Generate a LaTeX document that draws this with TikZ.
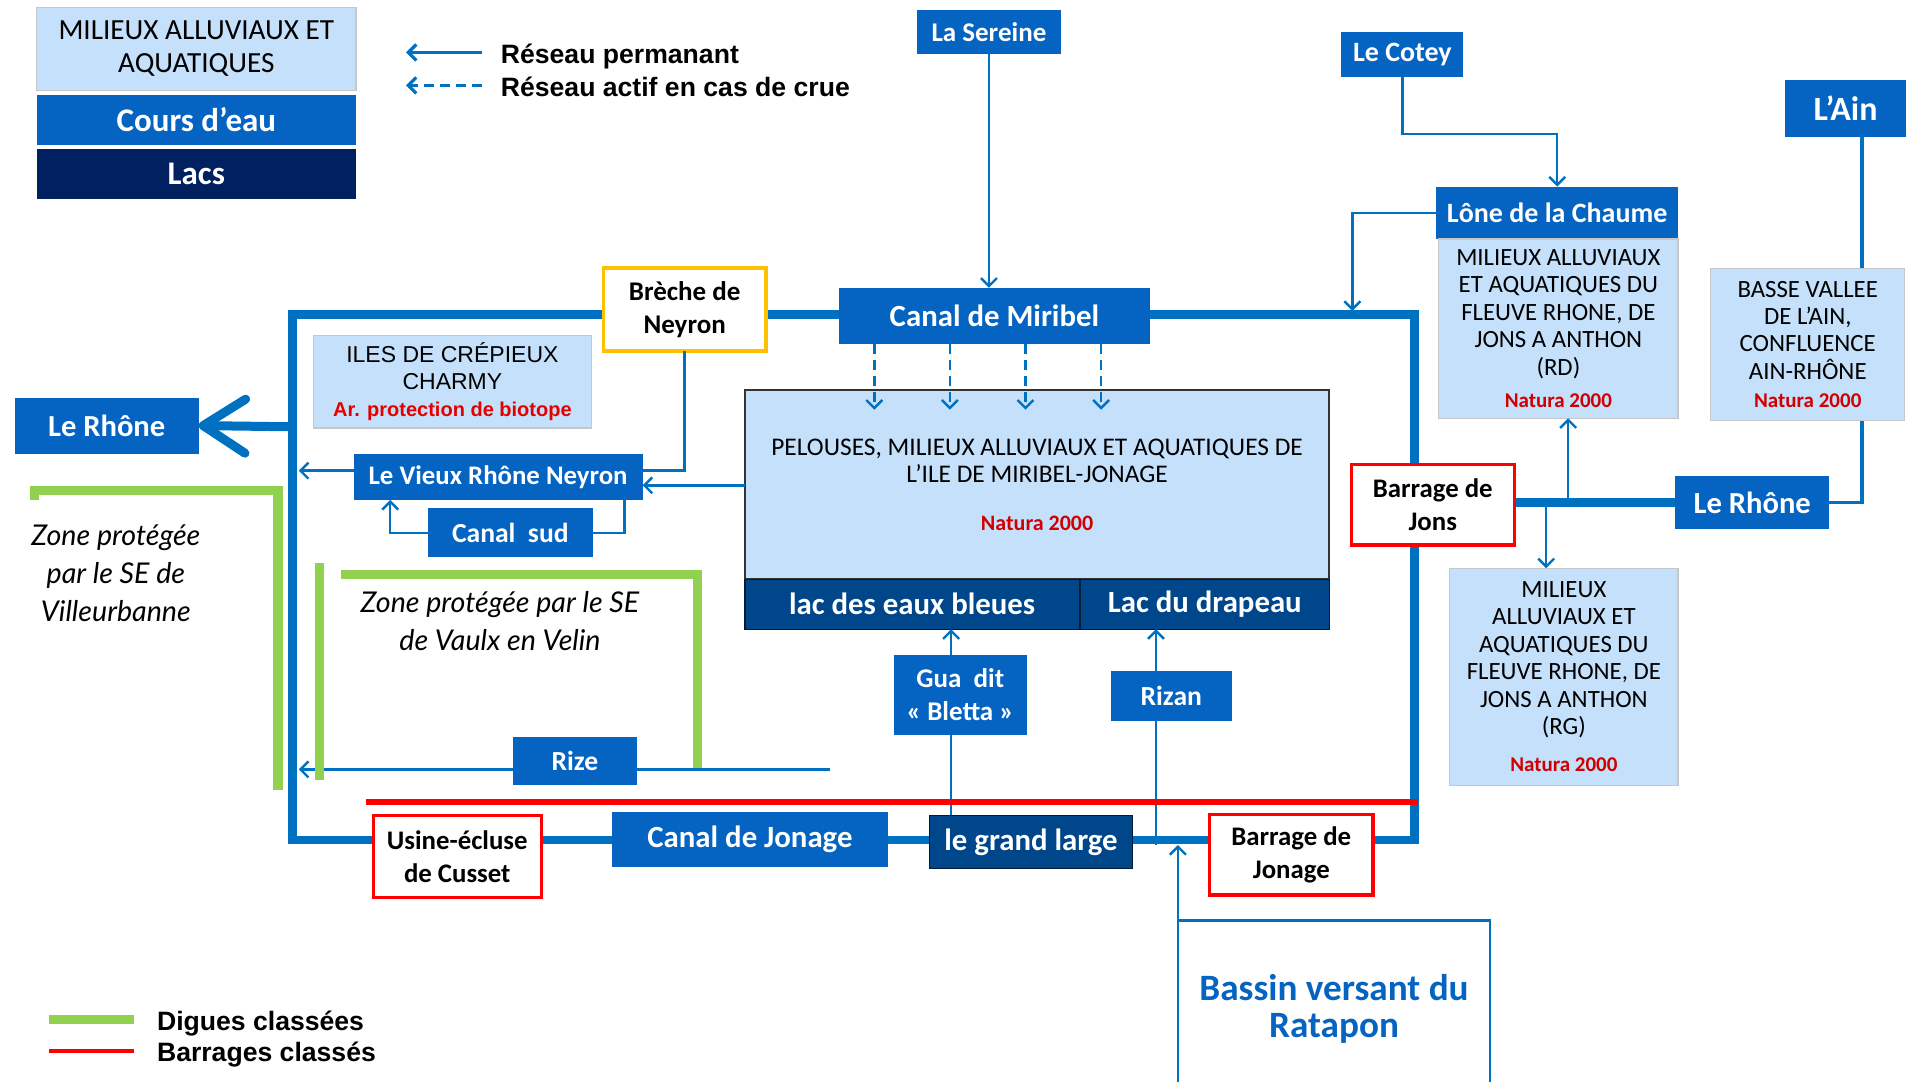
\documentclass[tikz,border=0pt]{standalone}
\usepackage{fontspec}
\setmainfont{Carlito}
\newfontfamily\arialf{Liberation Sans}
\newfontfamily\zonef{Lato}
\usetikzlibrary{arrows.meta}
\definecolor{cblue}{HTML}{0563C1}
\definecolor{lblue}{HTML}{0070C0}
\definecolor{clight}{HTML}{C5E0FA}
\definecolor{clac}{HTML}{00468A}
\definecolor{cnavy}{HTML}{002060}
\definecolor{cgreen}{HTML}{92D050}
\definecolor{cyel}{HTML}{FFC000}
\definecolor{natred}{HTML}{D00000}
\pgfdeclarelayer{bg}
\pgfsetlayers{bg,main}
\newcommand{\fsz}[2]{\fontsize{#1}{#2}\selectfont}
\newcommand{\natura}[1][10.5]{{\color{natred}\bfseries\fsz{#1}{13}Natura 2000}}
% box from (x1,y1) to (x2,y2) in picture units
\newcommand{\bx}[7][]{\node[#1, minimum width={((#5)-(#3))*0.6097pt}, minimum height={((#6)-(#4))*0.6097pt}] (#2) at ({((#3)+(#5))/2},{((#4)+(#6))/2}) {#7};}
\tikzset{
  box/.style={inner sep=0pt, outer sep=0pt, align=center},
  bluebox/.style={box, fill=cblue, text=white, font=\bfseries\fsz{13.5}{15}},
  lacbox/.style={box, fill=clac, text=white, font=\bfseries\fsz{15.4}{15}},
  lightbox/.style={box, fill=clight, draw=black!22, line width=0.6pt, font=\fsz{12.4}{13.7}},
  redbox/.style={box, fill=white, draw=red, line width=1.6pt, font=\bfseries\fsz{13.4}{16.5}},
  conn/.style={draw=lblue, line width=1.2pt, -{Straight Barb[length=4pt,width=8pt]}},
  plainline/.style={draw=lblue, line width=1.2pt},
  loopline/.style={draw=lblue, line width=4.3pt, line join=miter},
  dashconn/.style={conn, dash pattern=on 5pt off 3pt},
  digue/.style={draw=cgreen, line width=4.6pt, line join=miter},
  barrage/.style={draw=red, line width=3pt},
  legtext/.style={anchor=west, font=\arialf\bfseries\fsz{13.3}{15}},
  zonetext/.style={align=center, font=\zonef\itshape\fsz{14.3}{19}},
}
\begin{document}
\begin{tikzpicture}[x=0.6097pt, y=-0.6097pt]
\useasboundingbox (0,0) rectangle (1568,887);
\begin{pgfonlayer}{bg}
\fill[white] (0,0) rectangle (1568,887);
\end{pgfonlayer}

% ---------- legend ----------
\bx[lightbox, font=\fsz{14.6}{16.5}]{legmil}{30}{6}{292}{74}{MILIEUX ALLUVIAUX ET\\AQUATIQUES}
\bx[bluebox, font=\bfseries\fsz{16.5}{17}]{legcours}{30}{78}{292}{119}{Cours d’eau}
\bx[box, fill=cnavy, text=white, font=\bfseries\fsz{16.5}{17}]{leglacs}{30}{122}{292}{163}{Lacs}
\coordinate (la1s) at (395,43); \coordinate (la1e) at (333,43);
\coordinate (la2s) at (395,70); \coordinate (la2e) at (333,70);
\draw[conn, line width=1.6pt] (la1s) -- (la1e);
\draw[dashconn, line width=1.6pt] (la2s) -- (la2e);
\node[legtext] (legperm) at (405,46) {Réseau permanant};
\node[legtext] (legcrue) at (405,71) {Réseau actif en cas de crue};

\coordinate (dg1) at (40,836); \coordinate (dg2) at (110,836);
\coordinate (br1) at (40,862); \coordinate (br2) at (110,862);
\draw[draw=cgreen, line width=4.8pt] (dg1) -- (dg2);
\draw[draw=red, line width=2pt] (br1) -- (br2);
\node[legtext] (legdig) at (123,839) {Digues classées};
\node[legtext] (legbar) at (123,865) {Barrages classés};

% ---------- nodes ----------
\bx[bluebox]{sereine}{752}{8}{870}{44}{La Sereine}
\bx[bluebox, font=\bfseries\fsz{14}{15}]{cotey}{1100}{26}{1200}{63}{Le Cotey}
\bx[bluebox, font=\bfseries\fsz{17}{15}]{ain}{1464}{66}{1563}{112}{L’Ain}
\bx[bluebox, font=\bfseries\fsz{14}{15}]{lone}{1178}{153}{1376}{196}{Lône de la Chaume}
\bx[lightbox]{rd}{1180}{196}{1376}{343}{MILIEUX ALLUVIAUX\\ET AQUATIQUES DU\\FLEUVE RHONE, DE\\JONS A ANTHON\\(RD)\\[2.5pt]\natura}
\bx[lightbox]{basse}{1403}{220}{1562}{345}{BASSE VALLEE\\DE L’AIN,\\CONFLUENCE\\AIN-RHÔNE\\[0.5pt]\natura}
\bx[bluebox, font=\bfseries\fsz{15.4}{15}]{miribel}{688}{236}{943}{282}{Canal de Miribel}
\bx[box, fill=white, draw=cyel, line width=1.8pt, font=\bfseries\fsz{13.5}{16.5}]{breche}{495}{220}{628}{288}{Brèche de\\Neyron}
\bx[lightbox, font=\arialf\fsz{11.5}{13.4}]{iles}{257}{275}{485}{351}{ILES DE CRÉPIEUX\\CHARMY\\{\color{red!90!black}\bfseries\fsz{10}{13.4}Ar. protection de biotope}}
\bx[bluebox, font=\bfseries\fsz{15.3}{15}]{rhoneL}{12}{326}{163}{372}{Le Rhône}
\bx[bluebox, font=\bfseries\fsz{13.4}{15}]{vieux}{290}{372}{527}{410}{Le Vieux Rhône Neyron}
\bx[bluebox, font=\bfseries\fsz{13.8}{15}]{canalsud}{351}{417}{486}{457}{Canal\ \ sud}
\bx[lightbox, draw=black!80, line width=0.8pt, font=\fsz{12.7}{13.6}]{pelouses}{611}{320}{1090}{475}{PELOUSES, MILIEUX ALLUVIAUX ET AQUATIQUES DE\\L’ILE DE MIRIBEL-JONAGE\\[10pt]\natura[11]}
\bx[lacbox, draw=black!60!clac, line width=0.6pt]{lacbleu}{611}{475}{885}{516}{lac des eaux bleues}
\bx[lacbox, draw=black!60!clac, line width=0.6pt]{drapeau}{886}{475}{1090}{516}{Lac du drapeau}
\bx[bluebox, font=\bfseries\fsz{13.5}{16.5}]{gua}{733}{537}{842}{603}{Gua\ \ dit\\« Bletta »}
\bx[bluebox, font=\bfseries\fsz{13.8}{15}]{rizan}{911}{550}{1010}{591}{Rizan}
\bx[bluebox, font=\bfseries\fsz{13.8}{15}]{rize}{421}{604}{522}{644}{Rize}
\bx[redbox]{usine}{306}{669}{444}{736}{Usine-écluse\\de Cusset}
\bx[bluebox, font=\bfseries\fsz{15.4}{15}]{jonage}{502}{666}{728}{711}{Canal de Jonage}
\bx[lacbox, draw=black!60!clac, line width=0.6pt]{grandlarge}{762}{669}{929}{712}{le grand large}
\bx[redbox]{barjonage}{992}{668}{1126}{734}{Barrage de\\Jonage}
\bx[box, fill=white, draw=lblue, line width=1.3pt, text=cblue, font=\bfseries\fsz{18.6}{18.5}]{bassin}{966}{755}{1222}{900}{Bassin versant du\\Ratapon}
\bx[redbox]{jons}{1108}{381}{1242}{447}{Barrage de\\Jons}
\bx[bluebox, font=\bfseries\fsz{15.3}{15}]{rhoneR}{1374}{390}{1500}{434}{Le Rhône}
\bx[lightbox]{rg}{1189}{466}{1376}{644}{MILIEUX\\ALLUVIAUX ET\\AQUATIQUES DU\\FLEUVE RHONE, DE\\JONS A ANTHON\\(RG)\\[5pt]\natura}

\node[zonetext] (zvil) at (95,470) {Zone protégée\\par le SE de\\Villeurbanne};
\node[zonetext] (zvaulx) at (410,509) {Zone protégée par le SE\\de Vaulx en Velin};

% ---------- coordinates ----------
\coordinate (LTL) at (240,258);
\coordinate (LBR) at (1160,689);
\coordinate (lonein) at (1109,255);
\coordinate (leftin) at (245,0);
\coordinate (rizeend) at (681,631);
\coordinate (vA) at (527,386);
\coordinate (vB) at (527,398);
\coordinate (vC) at (290,386);
\coordinate (vsx1) at (512,0);
\coordinate (vsx2) at (320,0);
\coordinate (guax) at (780,0);
\coordinate (rizx) at (948,693);
\coordinate (upx) at (1286,412);
\coordinate (dnx) at (1268,412);
\coordinate (ainx) at (1527,0);
\coordinate (rhLstart) at (240,350);
\coordinate (bassinup) at (966,693);
\coordinate (dA) at (717,0);
\coordinate (dB) at (779,0);
\coordinate (dC) at (841,0);
\coordinate (dD) at (903,0);
\coordinate (dEnd) at (0,336);

% ---------- background lines ----------
\begin{pgfonlayer}{bg}
\draw[loopline] (LTL) rectangle (LBR);
\draw[loopline] (jons.east |- rhoneR.west) -- (rhoneR.west);
\draw[plainline, line width=1.8pt] (ainx |- ain.south) -- (ainx |- rhoneR.east) -- (rhoneR.east);
\draw[plainline] (rizeend) -- (rize.east |- rizeend);
\draw[conn] (rize.west |- rizeend) -- (leftin |- rizeend);
\draw[plainline] (guax |- grandlarge.north) -- (guax |- gua.south);
\draw[plainline] (rizx) -- (rizx |- rizan.south);
\draw[digue] (28,410) -- (28,402) -- (228,402) -- (228,648);
\draw[digue] (262,462) -- (262,640);
\draw[digue] (280,471) -- (572,471) -- (572,630);
\draw[barrage] (300,658) -- (1163,658);
\end{pgfonlayer}

% ---------- connectors ----------
\draw[conn] (sereine.south) -- (sereine.south |- miribel.north);
\draw[conn] (cotey.south) -- ++(0,47) -| (lone.north);
\draw[conn] (lone.west) -| (lonein);
\draw[dashconn] (dA |- miribel.south) -- (dA |- dEnd);
\draw[dashconn] (dB |- miribel.south) -- (dB |- dEnd);
\draw[dashconn] (dC |- miribel.south) -- (dC |- dEnd);
\draw[dashconn] (dD |- miribel.south) -- (dD |- dEnd);
\draw[draw=lblue, line width=4.5pt, line cap=round, -{Straight Barb[length=21pt,width=27pt,line cap=round, round]}] (rhLstart) -- (rhoneL.east);
\draw[plainline] (breche.south) |- (vA);
\draw[conn] (pelouses.west |- vB) -- (vB);
\draw[conn] (vC) -- (leftin |- vC);
\draw[plainline] (canalsud.east) -| (vsx1 |- vieux.south);
\draw[conn] (canalsud.west) -| (vsx2 |- vieux.south);
\draw[conn] (guax |- gua.north) -- (guax |- lacbleu.south);
\draw[conn] (rizx |- rizan.north) -- (rizx |- drapeau.south);
\draw[conn] (bassin.north west) -- (bassinup);
\draw[conn] (upx) -- (upx |- rd.south);
\draw[conn] (dnx) -- (dnx |- rg.north);
\end{tikzpicture}
\end{document}
